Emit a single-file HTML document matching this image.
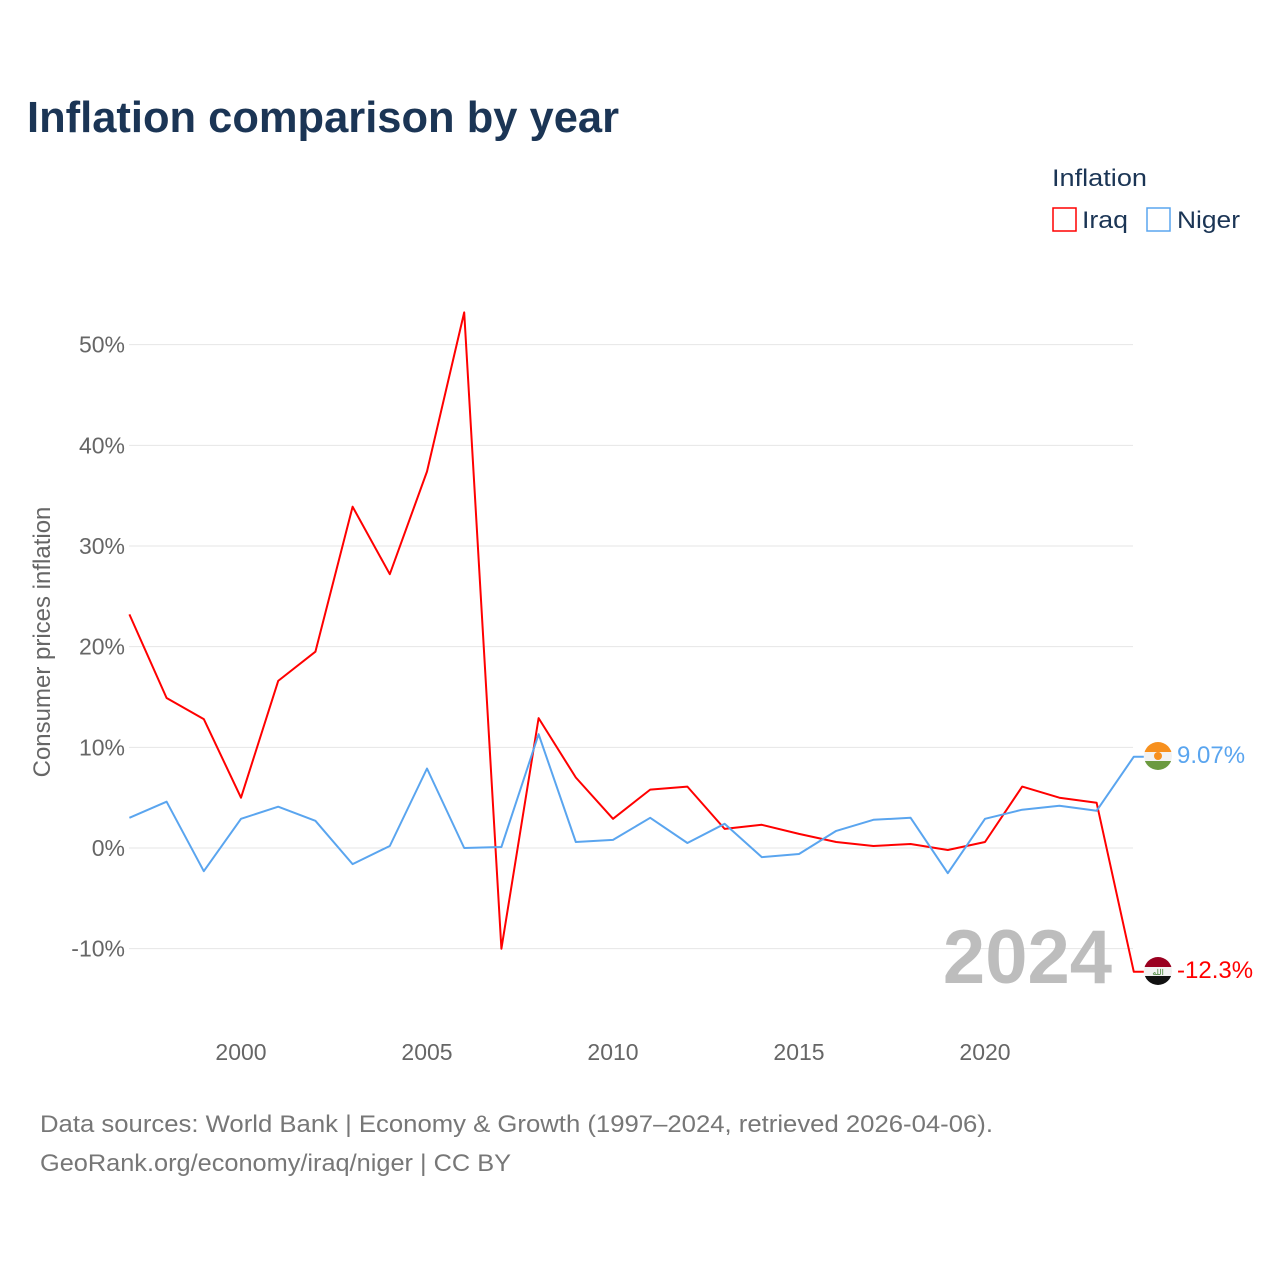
<!DOCTYPE html>
<html><head><meta charset="utf-8"><style>
body{margin:0;background:#fff;width:1280px;height:1280px;overflow:hidden;font-family:"Liberation Sans",sans-serif}
svg text{font-family:"Liberation Sans",sans-serif}
</style></head><body>
<svg id="chart" width="1280" height="1280" viewBox="0 0 1280 1280">
<text x="27" y="132" font-size="44" font-weight="bold" fill="#1b3555" textLength="592" lengthAdjust="spacingAndGlyphs">Inflation comparison by year</text>
<text x="1052" y="186" font-size="24" fill="#1b3555" textLength="95" lengthAdjust="spacingAndGlyphs">Inflation</text>
<g><rect x="1053" y="208" width="23" height="23" fill="none" stroke="#ff0000" stroke-width="1.5"/><text x="1082" y="228" font-size="24" fill="#1b3555" textLength="46" lengthAdjust="spacingAndGlyphs">Iraq</text></g>
<g><rect x="1147" y="208" width="23" height="23" fill="none" stroke="#5aa5ef" stroke-width="1.5"/><text x="1177" y="228" font-size="24" fill="#1b3555" textLength="63" lengthAdjust="spacingAndGlyphs">Niger</text></g>
<g id="grid"></g>
<g id="yticks"></g>
<g id="xticks"></g>
<text transform="translate(50,642) rotate(-90)" text-anchor="middle" font-size="24" fill="#666">Consumer prices inflation</text>
<text x="1112" y="983" text-anchor="end" font-size="76" font-weight="bold" fill="#bdbdbd">2024</text>
<g id="series"></g>
<g><clipPath id="cn"><circle cx="1158" cy="756" r="14"/></clipPath><g clip-path="url(#cn)"><rect x="1144" y="742" width="28" height="10" fill="#f7901e"/><rect x="1144" y="752" width="28" height="9" fill="#f2f2f2"/><rect x="1144" y="761" width="28" height="10" fill="#6b9a3f"/><circle cx="1158" cy="756" r="4" fill="#f7901e"/></g></g>
<g><clipPath id="ci"><circle cx="1158" cy="971" r="14"/></clipPath><g clip-path="url(#ci)"><rect x="1144" y="957" width="28" height="10" fill="#9a0020"/><rect x="1144" y="967" width="28" height="9" fill="#f2f2f2"/><rect x="1144" y="976" width="28" height="10" fill="#111"/><text x="1158" y="975" text-anchor="middle" font-size="8" fill="#3a7a2a">الله</text></g></g>
<text x="1177" y="763" font-size="24" fill="#5aa5ef">9.07%</text>
<text x="1177" y="978" font-size="24" fill="#ff0000">-12.3%</text>
<text x="40" y="1132" font-size="24" fill="#777" textLength="953" lengthAdjust="spacingAndGlyphs">Data sources: World Bank | Economy &amp; Growth (1997–2024, retrieved 2026-04-06).</text>
<text x="40" y="1171" font-size="24" fill="#777" textLength="471" lengthAdjust="spacingAndGlyphs">GeoRank.org/economy/iraq/niger | CC BY</text>
</svg>
<script>
const years=[1997,1998,1999,2000,2001,2002,2003,2004,2005,2006,2007,2008,2009,2010,2011,2012,2013,2014,2015,2016,2017,2018,2019,2020,2021,2022,2023,2024];
const iraq=[23.2,14.9,12.8,5.0,16.6,19.5,33.9,27.2,37.4,53.2,-10.0,12.9,7.0,2.9,5.8,6.1,1.9,2.3,1.4,0.6,0.2,0.4,-0.2,0.6,6.1,5.0,4.5,-12.3];
const niger=[3.0,4.6,-2.3,2.9,4.1,2.7,-1.6,0.2,7.9,0.0,0.1,11.3,0.6,0.8,3.0,0.5,2.4,-0.9,-0.6,1.7,2.8,3.0,-2.5,2.9,3.8,4.2,3.7,9.07];
const yTicks=[-10,0,10,20,30,40,50];
const xTicks=[2000,2005,2010,2015,2020];
const x=v=>241+(v-2000)*37.2;
const y=v=>848-v*10.067;
const NS='http://www.w3.org/2000/svg';
function mk(t,a,p){const e=document.createElementNS(NS,t);for(const k in a)e.setAttribute(k,a[k]);p.appendChild(e);return e;}
const grid=document.getElementById('grid'),yt=document.getElementById('yticks'),xt=document.getElementById('xticks'),se=document.getElementById('series');
yTicks.forEach(t=>{
 const l=mk('line',{x1:129,x2:1133,y1:y(t),y2:y(t),stroke:'#e6e6e6','stroke-width':1},grid);
 
 
 const tx=mk('text',{x:125,y:y(t)+8,'text-anchor':'end','font-size':23,fill:'#666'},yt);
 tx.textContent=t+'%';
 
 
});
xTicks.forEach(t=>{
 const tx=mk('text',{x:x(t),y:1060,'text-anchor':'middle','font-size':23,fill:'#666'},xt);
 tx.textContent=t;
 
 
});
function line(vals,col,name){
 let d=vals.map((v,i)=>(i?'L':'M')+x(years[i]).toFixed(1)+','+y(v).toFixed(1)).join('');
 d+='L'+(x(years[years.length-1])+10)+','+y(vals[vals.length-1]).toFixed(1);
 const p=mk('path',{d:d,fill:'none',stroke:col,'stroke-width':2,'stroke-linejoin':'round'},se);
 
 
}
line(iraq,'#ff0000','iraq-line');
line(niger,'#5aa5ef','niger-line');
</script>
</body></html>
